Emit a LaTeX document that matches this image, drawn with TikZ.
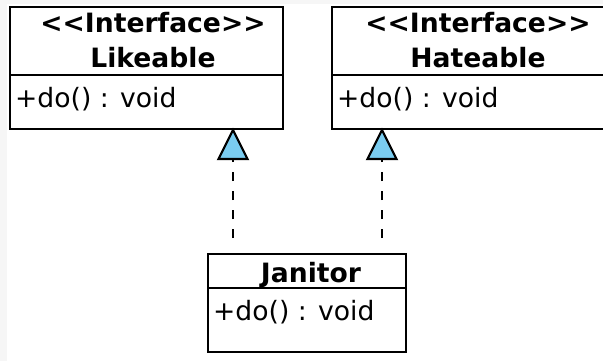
\documentclass[tikz,border=0pt]{standalone}
\usepackage{fontspec}
\setmainfont{DejaVu Sans}
\definecolor{triblue}{RGB}{122,204,240}
\definecolor{bgpale}{RGB}{246,246,246}
\begin{document}
\begin{tikzpicture}[x=1pt,y=-1pt,
  box/.style={draw=black,line width=2.2pt,fill=white},
  title/.style={font=\bfseries\fontsize{26.6}{35}\selectfont,inner sep=0pt,anchor=base},
  member/.style={font=\fontsize{26.6}{35}\selectfont,inner sep=0pt,anchor=base west},
  real/.style={draw=black,line width=2.2pt,dash pattern=on 9pt off 10pt},
  tri/.style={draw=black,line width=2.2pt,fill=triblue,line join=miter}]
\useasboundingbox (0,0) rectangle (603,361);
\fill[bgpale] (0,0) rectangle (603,361);
\fill[white] (7,4) rectangle (603,361);
% Likeable
\draw[box] (10,7) rectangle (283,129);
\draw[line width=2.2pt] (10,75) -- (283,75);
\node[title] (l1) at (153,33) {{<}{<}Interface{>}{>}};
\node[title] (l2) at (153,68) {Likeable};
\node[member] (lm) at (15,108) {+do() : void};
\coordinate (lk) at (233,130);
\coordinate (lb) at (233,159);
% Hateable
\draw[box] (332,7) rectangle (607,129);
\draw[line width=2.2pt] (332,75) -- (607,75);
\node[title] (h1) at (478,33) {{<}{<}Interface{>}{>}};
\node[title] (h2) at (478,68) {Hateable};
\node[member] (hm) at (337,108) {+do() : void};
\coordinate (hk) at (382,130);
\coordinate (hb) at (382,159);
% Janitor
\draw[box] (208,254) rectangle (406,352);
\draw[line width=2.2pt] (208,288) -- (406,288);
\node[title] (j1) at (311,282) {Janitor};
\node[member] (jm) at (213,320) {+do() : void};
\coordinate (ja) at (233,238);
\coordinate (jb) at (382,238);
% realizations
\draw[real] (ja) -- (lb);
\draw[tri] (lk) -- ++(14.5,29) -- ++(-29,0) -- cycle;
\draw[real] (jb) -- (hb);
\draw[tri] (hk) -- ++(14.5,29) -- ++(-29,0) -- cycle;
\end{tikzpicture}
\end{document}
